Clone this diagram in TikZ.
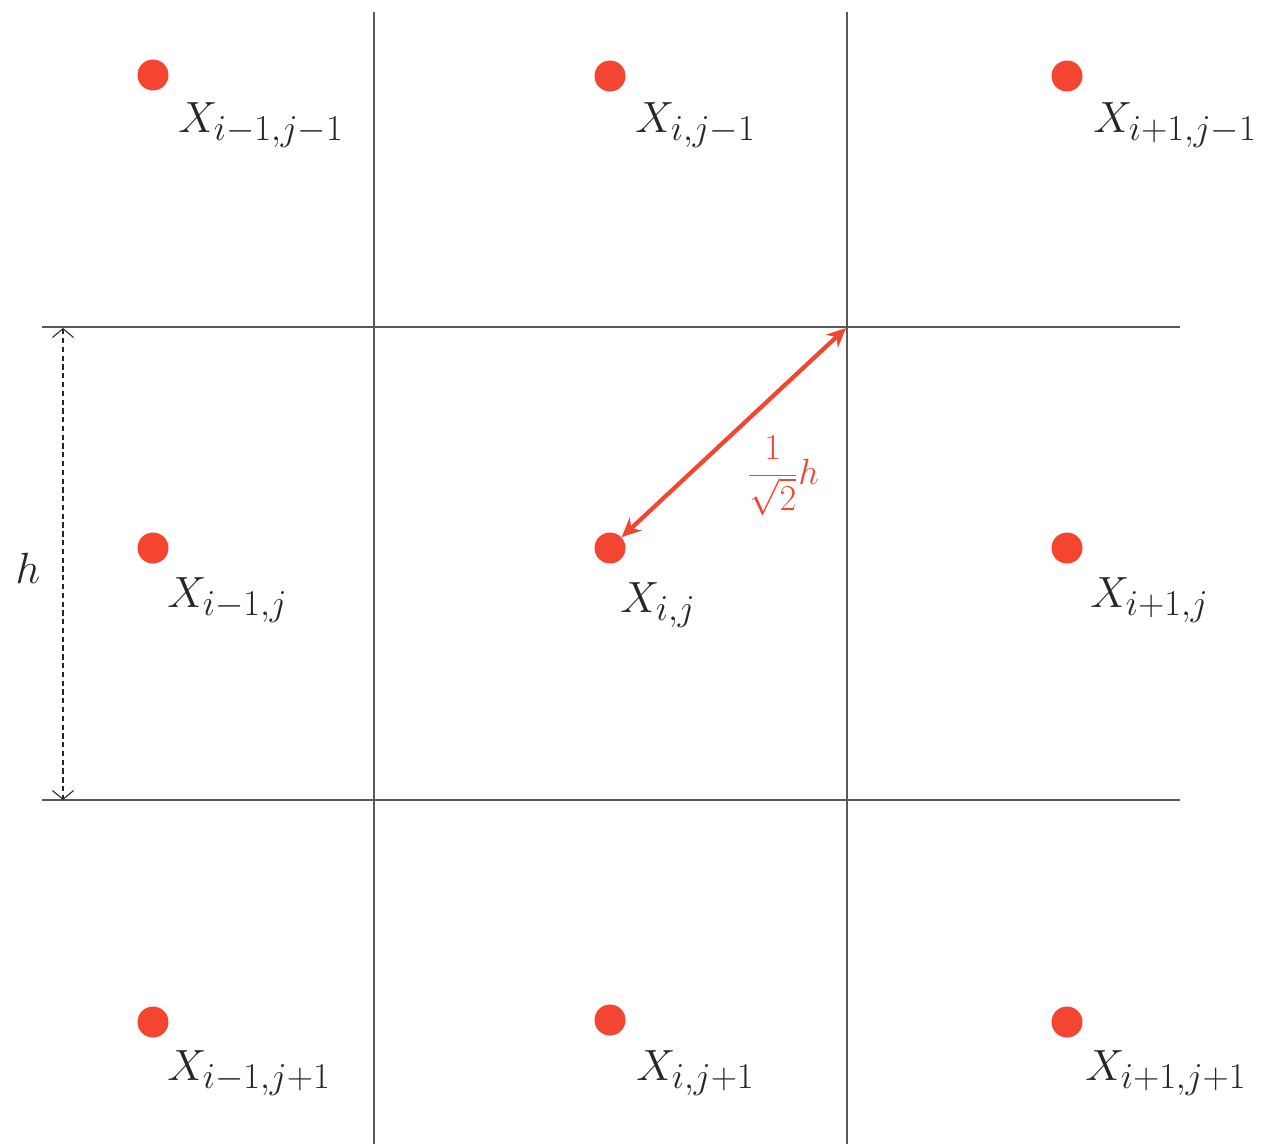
\documentclass[tikz,border=0pt]{standalone}
\usetikzlibrary{arrows.meta}
\definecolor{dotred}{HTML}{F44530}
\definecolor{gridgray}{HTML}{595959}
\definecolor{txt}{HTML}{262626}
\newcommand{\lblsub}[1]{\mbox{\fontsize{22.5}{25}\selectfont$#1$}}
\begin{document}
\begin{tikzpicture}[x=0.02cm,y=-0.02cm,
  gridline/.style={draw=gridgray,line width=0.9pt},
  dotnode/.style={circle,fill=dotred,draw=none,minimum size=0.62cm,inner sep=0pt},
  lbl/.style={anchor=base west,inner sep=0pt,text=txt,font=\fontsize{28}{34}\selectfont},
  redarrow/.style={draw=dotred,line width=2.4pt,{Stealth[length=11pt,width=10pt]}-{Stealth[length=11pt,width=10pt]}},
  dimarrow/.style={draw=txt,line width=0.6pt,dash pattern=on 3pt off 2pt,{Straight Barb[length=5pt,width=12pt]}-{Straight Barb[length=5pt,width=12pt]}}
]
\useasboundingbox (0,0) rectangle (1268,1144);
% grid
\coordinate (v1t) at (374,12); \coordinate (v1b) at (374,1144);
\coordinate (v2t) at (847,12); \coordinate (v2b) at (847,1144);
\coordinate (h1l) at (42,327); \coordinate (h1r) at (1180,327);
\coordinate (h2l) at (42,800); \coordinate (h2r) at (1180,800);
\draw[gridline] (v1t) -- (v1b);
\draw[gridline] (v2t) -- (v2b);
\draw[gridline] (h1l) -- (h1r);
\draw[gridline] (h2l) -- (h2r);
% dots
\node[dotnode] (d11) at (153,75) {};
\node[dotnode] (d21) at (610,76) {};
\node[dotnode] (d31) at (1067,76) {};
\node[dotnode] (d12) at (153,548) {};
\node[dotnode] (d22) at (610,548) {};
\node[dotnode] (d32) at (1067,548) {};
\node[dotnode] (d13) at (153,1022) {};
\node[dotnode] (d23) at (610,1020) {};
\node[dotnode] (d33) at (1067,1022) {};
% labels
\node[lbl] (l11) at (178,132) {$X_{\lblsub{i{-}1{,}j{-}1}}$};
\node[lbl] (l21) at (635,132) {$X_{\lblsub{i{,}j{-}1}}$};
\node[lbl] (l31) at (1093,132) {$X_{\lblsub{i{+}1{,}j{-}1}}$};
\node[lbl] (l12) at (167,607) {$X_{\lblsub{i{-}1{,}j}}$};
\node[lbl] (l22) at (620,612) {$X_{\lblsub{i{,}j}}$};
\node[lbl] (l32) at (1090,607) {$X_{\lblsub{i{+}1{,}j}}$};
\node[lbl] (l13) at (167,1080) {$X_{\lblsub{i{-}1{,}j{+}1}}$};
\node[lbl] (l23) at (636,1080) {$X_{\lblsub{i{,}j{+}1}}$};
\node[lbl] (l33) at (1085,1080) {$X_{\lblsub{i{+}1{,}j{+}1}}$};
% red diagonal
\coordinate (corner) at (846,328);
\draw[redarrow] (corner) -- (d22);
\node[inner sep=0pt,text=dotred,font=\fontsize{20}{24}\selectfont] (frac) at (783,476) {$\displaystyle\frac{1}{\sqrt{2}}h$};
% dimension h
\coordinate (dt) at (63,328);
\coordinate (db) at (63,800);
\draw[dimarrow] (dt) -- (db);
\node[inner sep=0pt,text=txt,font=\fontsize{29}{34}\selectfont] (hl) at (28,568) {$h$};
\end{tikzpicture}
\end{document}
